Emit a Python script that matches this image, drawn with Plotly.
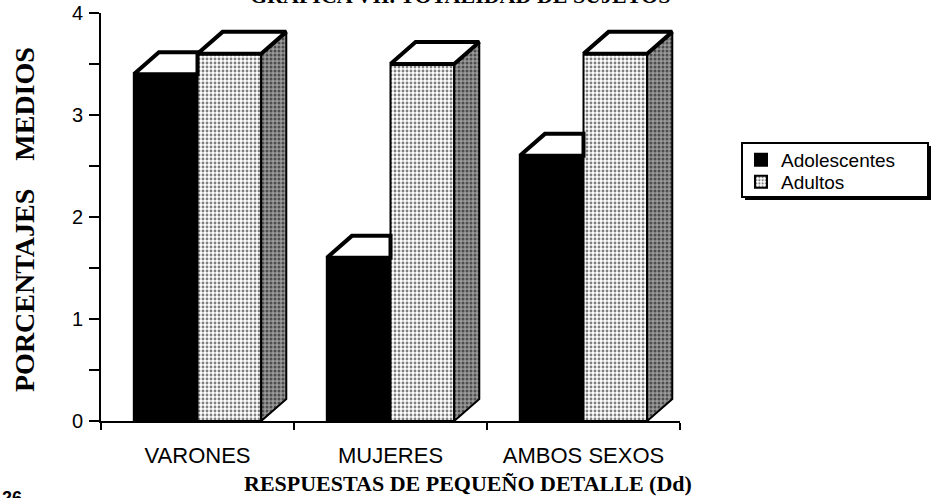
import plotly.graph_objects as go

# ---------------- data ----------------
categories = ["VARONES", "MUJERES", "AMBOS SEXOS"]
adolescentes = [3.4, 1.6, 2.6]
adultos = [3.6, 3.5, 3.6]
series_names = ["Adolescentes", "Adultos"]
y_tick_values = [0, 1, 2, 3, 4]
title_text = "GRAFICA VII. TOTALIDAD DE SUJETOS"
x_title_text = "RESPUESTAS DE PEQUEÑO DETALLE (Dd)"
y_title_text = "PORCENTAJES\u00a0\u00a0\u00a0\u00a0MEDIOS"
page_number = "26"

# ---------------- style ----------------
W, H = 935, 498
PLOT_L, PLOT_R, PLOT_T, PLOT_B = 101, 680, 13, 421   # window pixels
ML, MT = PLOT_L, PLOT_T
MR, MB = W - PLOT_R, H - PLOT_B
PW, PH = PLOT_R - PLOT_L, PLOT_B - PLOT_T
BAR_W = 0.33      # width of each front face (category units)
DX = 0.13         # 3D depth in x (category units)
DY = 0.215        # 3D depth in y (value units)
SANS = "Liberation Sans, Arial, sans-serif"
SERIF = "Liberation Serif, Times New Roman, serif"


def px_x(p):
    return (p - PLOT_L) / PW


def px_y(p):
    return (PLOT_B - p) / PH


x_pos = list(range(len(categories)))

fig = go.Figure()

# front faces
fig.add_trace(go.Bar(
    x=x_pos, y=adolescentes, width=BAR_W, offset=-BAR_W, name=series_names[0],
    marker=dict(color="black", line=dict(color="black", width=2)),
    legend="legend",
))
fig.add_trace(go.Bar(
    x=x_pos, y=adultos, width=BAR_W, offset=0, name=series_names[1],
    marker=dict(color="white", line=dict(color="black", width=2),
                pattern=dict(shape=".", fgcolor="black", bgcolor="white",
                             size=4, solidity=0.4)),
    legend="legend2",
))

# side faces (only the adult side is visible)
sx, sy = [], []
for i, v in zip(x_pos, adultos):
    x1 = i + BAR_W
    sx += [x1, x1 + DX, x1 + DX, x1, x1, None]
    sy += [0, DY, v + DY, v, 0, None]
fig.add_trace(go.Scatter(
    x=sx, y=sy, mode="lines", fill="toself", showlegend=False, hoverinfo="skip",
    line=dict(color="black", width=2), fillcolor="#8c8c8c",
    fillpattern=dict(shape=".", fgcolor="black", bgcolor="#9a9a9a", size=4, solidity=0.45),
))

# top faces
tx, ty = [], []
for i, v in zip(x_pos, adolescentes):
    x0, x1 = i - BAR_W, i
    tx += [x0, x0 + DX, x1, x1, x0, None]
    ty += [v, v + DY, v + DY, v, v, None]
for i, v in zip(x_pos, adultos):
    x0, x1 = i, i + BAR_W
    tx += [x0, x0 + DX, x1 + DX, x1, x0, None]
    ty += [v, v + DY, v + DY, v, v, None]
fig.add_trace(go.Scatter(
    x=tx, y=ty, mode="lines", fill="toself", showlegend=False, hoverinfo="skip",
    line=dict(color="black", width=4), fillcolor="white",
))

# legend box with shadow
lx0, lx1 = px_x(742), px_x(928)
ly0, ly1 = px_y(197), px_y(143)
sdx, sdy = 3 / PW, 3 / PH
shapes = [
    dict(type="rect", xref="paper", yref="paper", x0=lx0 + sdx, x1=lx1 + sdx,
         y0=ly0 - sdy, y1=ly1 - sdy, fillcolor="black", line=dict(width=0)),
    dict(type="rect", xref="paper", yref="paper", x0=lx0, x1=lx1,
         y0=ly0, y1=ly1, fillcolor="white", line=dict(color="black", width=2)),
]

annotations = [
    dict(text=title_text, xref="paper", yref="paper", x=px_x(460), y=px_y(10),
         xanchor="center", yanchor="bottom", showarrow=False,
         font=dict(family=SERIF, size=22, color="black", weight="bold")),
    dict(text=x_title_text, xref="paper", yref="paper", x=px_x(468), y=px_y(484),
         xanchor="center", yanchor="middle", showarrow=False,
         font=dict(family=SERIF, size=22, color="black", weight="bold")),
    dict(text=y_title_text, xref="paper", yref="paper", x=px_x(24), y=px_y(220),
         xanchor="center", yanchor="middle", showarrow=False, textangle=-90,
         font=dict(family=SERIF, size=28, color="black", weight="bold")),
    dict(text=page_number, xref="paper", yref="paper", x=px_x(0), y=px_y(486),
         xanchor="left", yanchor="top", showarrow=False,
         font=dict(family=SANS, size=18, color="black", weight="bold")),
]

legend_common = dict(xanchor="left", yanchor="top", bgcolor="rgba(0,0,0,0)",
                     borderwidth=0, font=dict(family=SANS, size=19, color="black"))

fig.update_layout(
    width=W, height=H,
    margin=dict(l=ML, r=MR, t=MT, b=MB, autoexpand=False),
    paper_bgcolor="white", plot_bgcolor="white",
    barmode="overlay",
    showlegend=True,
    legend=dict(x=px_x(741), y=px_y(141), **legend_common),
    legend2=dict(x=px_x(741), y=px_y(163), **legend_common),
    shapes=shapes,
    annotations=annotations,
    xaxis=dict(
        range=[-0.5, len(categories) - 0.5], tickmode="array", tickvals=x_pos,
        ticktext=categories, ticks="", showline=True, linewidth=2, linecolor="black",
        showgrid=False, zeroline=False, ticklabelstandoff=14, ticklabeloverflow="allow",
        tickfont=dict(family=SANS, size=22, color="black"),
        minor=dict(tickmode="array", tickvals=[i - 0.5 for i in range(len(categories) + 1)],
                   ticks="outside", ticklen=7, tickwidth=2, tickcolor="black", showgrid=False),
    ),
    yaxis=dict(
        range=[0, 4], tickmode="array", tickvals=y_tick_values, ticks="outside",
        ticklen=10, tickwidth=2, tickcolor="black", showline=True, linewidth=2,
        linecolor="black", showgrid=False, zeroline=False, ticklabelstandoff=2,
        ticklabeloverflow="allow",
        tickfont=dict(family=SANS, size=20, color="black"),
        minor=dict(dtick=0.5, tick0=0, ticks="outside", ticklen=10, tickwidth=2,
                   tickcolor="black", showgrid=False),
    ),
)

# remove the browser's default page margin so the figure fills the window
fig.write_html("out.html",
               config={"displayModeBar": False},
               post_script="document.body.style.margin='0';document.body.style.overflow='hidden';")
